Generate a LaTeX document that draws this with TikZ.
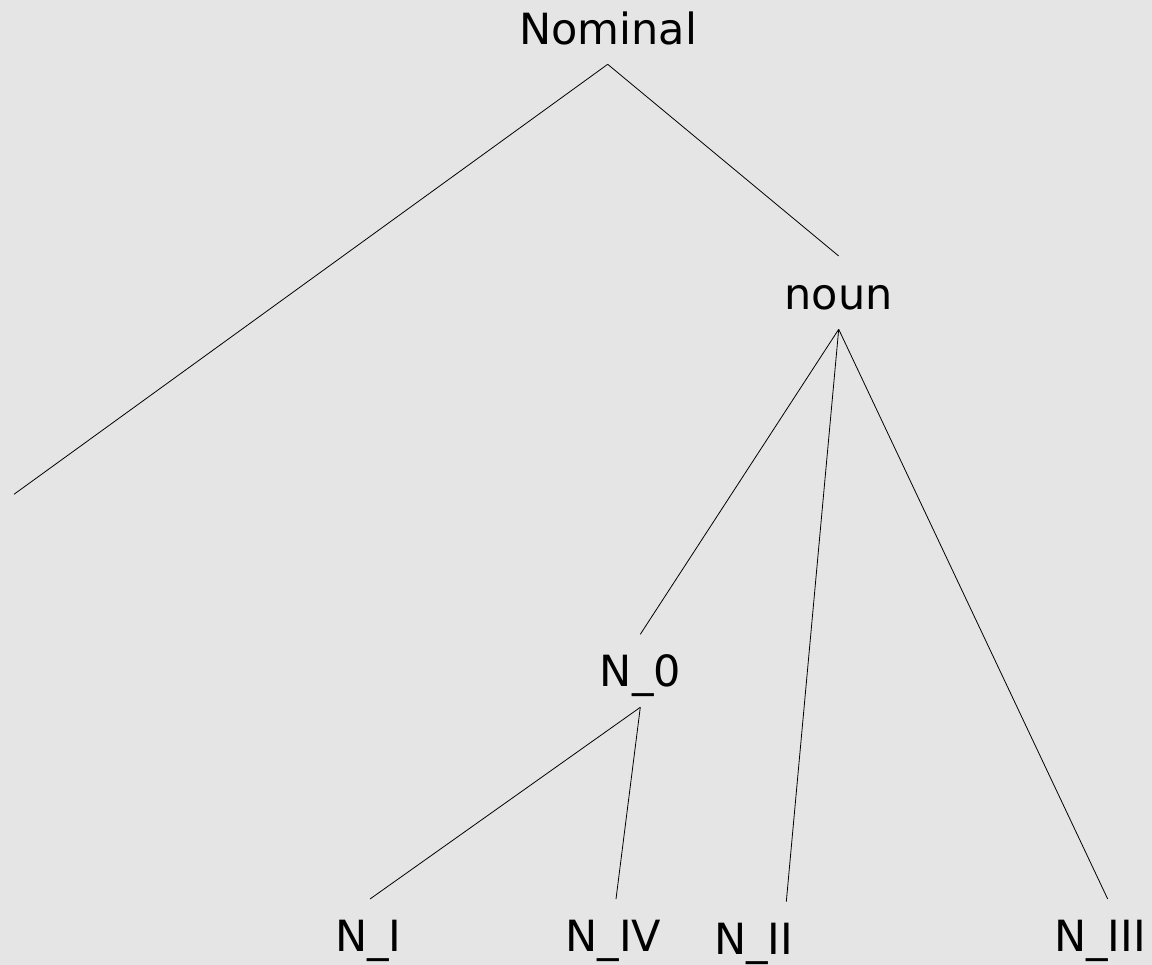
\documentclass[tikz,border=0pt]{standalone}
\usepackage{fontspec}
\setmainfont{DejaVu Sans}
\definecolor{bg}{RGB}{229,229,229}
\begin{document}
\begin{tikzpicture}[x=1pt,y=-1pt,
  lbl/.style={inner sep=0pt,anchor=base,font=\fontsize{43}{50}\selectfont,text=black},
  edge/.style={draw=black,line width=0.8pt}]
\fill[bg] (0,0) rectangle (1152,965);
\useasboundingbox (0,0) rectangle (1152,965);
% text labels
\node[lbl] (nominal) at (608,44.3) {Nominal};
\node[lbl] (noun) at (838.5,309.3) {noun};
\node[lbl] (n0) at (640.5,686.7) {N\_0};
\node[lbl] (nI) at (368.5,951.7) {N\_I};
\node[lbl] (nIV) at (613.3,951.7) {N\_IV};
\node[lbl] (nII) at (753.7,954) {N\_II};
\node[lbl] (nIII) at (1100,951.7) {N\_III};
% connector ends
\coordinate (nominalB) at (607.7,64.3);
\coordinate (leftEnd) at (14,494.3);
\coordinate (nounT) at (838.7,256);
\coordinate (nounB) at (838.7,329.3);
\coordinate (n0T) at (640.3,634.3);
\coordinate (n0B) at (640.3,707.3);
\coordinate (nIT) at (370,899);
\coordinate (nIVT) at (616,899);
\coordinate (nIIT) at (786.3,901.7);
\coordinate (nIIIT) at (1107.7,899);
% connectors
\draw[edge] (nominalB) -- (leftEnd);
\draw[edge] (nominalB) -- (nounT);
\draw[edge] (nounB) -- (n0T);
\draw[edge] (nounB) -- (nIIT);
\draw[edge] (nounB) -- (nIIIT);
\draw[edge] (n0B) -- (nIT);
\draw[edge] (n0B) -- (nIVT);
\end{tikzpicture}
\end{document}
